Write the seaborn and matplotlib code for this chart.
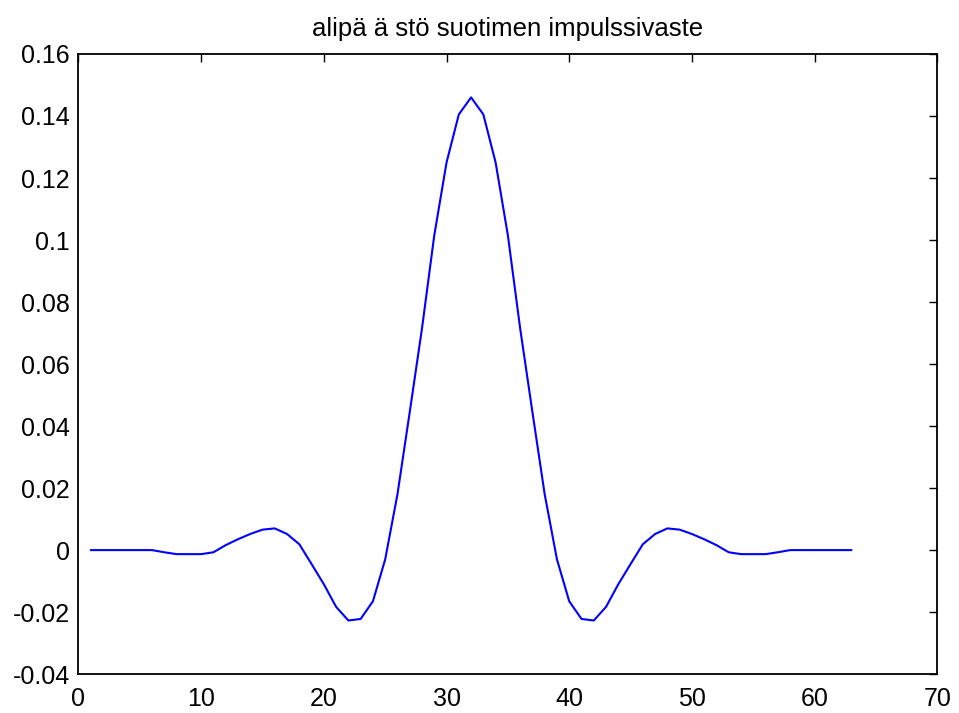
import numpy as np
import pandas as pd
import matplotlib
matplotlib.use("Agg")
import matplotlib.pyplot as plt
import seaborn as sns

# impulse response of a symmetric 63-tap filter
half = [0, 0, 0, 0, 0, 0, -0.0007, -0.0013, -0.0013, -0.0013,
        -0.0007, 0.0016, 0.0035, 0.0052, 0.0066, 0.0070, 0.0052, 0.0019,
        -0.0045, -0.0110, -0.0183, -0.0227, -0.0222, -0.0165, -0.0030,
        0.0180, 0.0445, 0.0715, 0.1015, 0.1250, 0.1405, 0.1460]
h = half + half[-2::-1]
n = list(range(1, len(h) + 1))

xticks = [0, 10, 20, 30, 40, 50, 60, 70]
yticks = [-0.04, -0.02, 0, 0.02, 0.04, 0.06, 0.08, 0.1, 0.12, 0.14, 0.16]
ytick_labels = ["-0.04", "-0.02", "0", "0.02", "0.04", "0.06", "0.08",
                "0.1", "0.12", "0.14", "0.16"]
title = "alipä ä stö suotimen impulssivaste"

sns.set_style("white")
plt.rcParams['font.family'] = ['Liberation Sans', 'DejaVu Sans']

df = pd.DataFrame({"n": n, "h": h})

fig = plt.figure(figsize=(9.59, 7.13), dpi=100)
ax = fig.add_axes([0.0818, 0.0545, 0.8956, 0.8698])
sns.lineplot(data=df, x="n", y="h", color="#0000ff", linewidth=1.5, ax=ax)

ax.set_xlim(0, 70)
ax.set_ylim(-0.04, 0.16)
ax.set_xticks(xticks)
ax.set_yticks(yticks)
ax.set_yticklabels(ytick_labels)
ax.set_xlabel("")
ax.set_ylabel("")
ax.tick_params(direction="in", length=5.5, width=1, labelsize=18,
               top=True, right=True, colors="black")
ax.tick_params(axis="x", pad=9)
ax.tick_params(axis="y", pad=6)
for s in ax.spines.values():
    s.set_visible(True)
    s.set_color("black")
    s.set_linewidth(1.3)
ax.set_title(title, fontsize=18.5, pad=13, color="black")

fig.savefig("out.png", dpi=100, facecolor="white")
